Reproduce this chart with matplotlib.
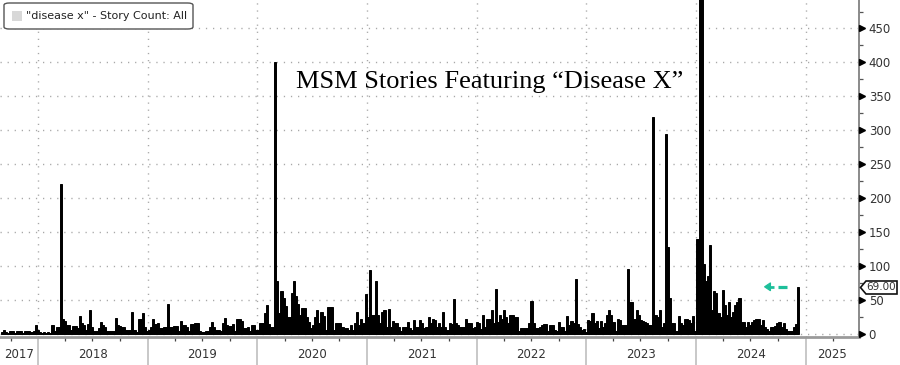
import matplotlib
matplotlib.use("Agg")
import matplotlib.pyplot as plt
import matplotlib.transforms as mtransforms
from matplotlib.patches import FancyBboxPatch, Polygon, Rectangle
import matplotlib.dates as mdates
import pandas as pd
import datetime as dt

# ---------------- data (weekly story counts) ----------------
start_date = "2017-09-03"
v2017 = [2, 5, 2, 1, 4, 3, 1, 4, 4, 4, 1, 3, 3, 4, 2, 3, 12, 5]
v2018 = [2, 1, 2, 1, 2, 1, 13, 4, 10, 10, 221, 21, 19, 12, 12, 5, 11, 11, 8, 26,
         15, 12, 5, 14, 34, 10, 3, 4, 8, 17, 12, 10, 4, 3, 3, 4, 23, 12, 11, 10,
         10, 5, 5, 5, 32, 5, 2, 22, 22, 30, 10, 3]
v2019 = [5, 10, 22, 14, 15, 8, 8, 10, 10, 44, 10, 10, 11, 11, 3, 19, 12, 12, 10, 3,
         14, 14, 16, 16, 3, 2, 2, 3, 3, 10, 17, 10, 5, 5, 3, 15, 23, 12, 11, 11,
         14, 3, 21, 21, 19, 8, 8, 10, 3, 12, 12, 5]
v2020 = [5, 16, 16, 30, 42, 14, 10, 10, 401, 77, 30, 63, 52, 40, 25, 25, 60, 78, 55, 44,
         28, 37, 37, 25, 17, 8, 12, 25, 34, 16, 31, 26, 5, 39, 39, 39, 5, 15, 16, 16,
         10, 8, 8, 5, 12, 5, 15, 32, 12, 21, 15, 59]
v2021 = [25, 93, 28, 28, 77, 28, 15, 32, 34, 10, 36, 10, 19, 15, 16, 10, 3, 10, 10, 17,
         8, 5, 20, 10, 10, 20, 15, 8, 10, 25, 15, 22, 20, 10, 16, 10, 31, 10, 5, 15,
         14, 51, 15, 12, 10, 10, 10, 22, 15, 15, 8, 10]
v2022 = [17, 15, 6, 28, 10, 21, 21, 34, 15, 66, 17, 28, 22, 35, 25, 15, 27, 27, 25, 25,
         3, 8, 8, 8, 8, 15, 48, 15, 8, 8, 10, 12, 14, 14, 3, 12, 12, 5, 3, 17,
         10, 10, 3, 26, 12, 19, 15, 81, 14, 10, 5, 6]
v2023 = [2, 20, 19, 30, 15, 19, 8, 19, 10, 15, 27, 35, 27, 17, 3, 21, 20, 12, 12, 12,
         95, 47, 47, 22, 35, 27, 20, 19, 17, 15, 12, 12, 320, 27, 25, 34, 10, 15, 295, 127,
         52, 15, 15, 3, 26, 15, 12, 22, 21, 20, 15, 26, 3]
v2024 = [140, 650, 510, 102, 77, 85, 130, 35, 62, 60, 30, 25, 64, 42, 27, 47, 25, 32, 42, 47,
         52, 17, 17, 10, 17, 12, 17, 20, 22, 22, 12, 20, 10, 7, 4, 9, 9, 11, 15, 17,
         10, 16, 7, 3, 3, 3, 9, 14, 69]

values = v2017 + v2018 + v2019 + v2020 + v2021 + v2022 + v2023 + v2024
dates = pd.date_range(start_date, periods=len(values), freq="7D")

y_ticks = [0, 50, 100, 150, 200, 250, 300, 350, 400, 450]
years = [2017, 2018, 2019, 2020, 2021, 2022, 2023, 2024, 2025]
last_value_label = "69.00"
legend_label = '"disease x" - Story Count: All'
title = "MSM Stories Featuring \u201cDisease X\u201d"

# ---------------- figure ----------------
W, H = 900, 365
fig = plt.figure(figsize=(W / 100, H / 100), dpi=100)
ax_bottom_px = 337.3
ax = fig.add_axes([0, (H - ax_bottom_px) / H, 859 / W, ax_bottom_px / H])

ax.bar(dates, values, width=7, color="black", edgecolor="black", linewidth=0.7, zorder=3)

xmin = dt.datetime(2017, 8, 27)
xmax = dt.datetime(2025, 6, 28)
ax.set_xlim(xmin, xmax)
ax.set_ylim(-5.6, 492)

# grid
dot = (0, (0.9, 4.2))
for v in y_ticks:
    ax.axhline(v, color="#a8a8a8", lw=1.0, ls=dot, zorder=1)
for y in years[1:]:
    ax.axvline(dt.datetime(y, 1, 1), color="#a8a8a8", lw=1.0, ls=dot, zorder=1)

# spines
for s in ["left", "top"]:
    ax.spines[s].set_visible(False)
ax.spines["right"].set_color("#8a8a8a")
ax.spines["right"].set_linewidth(1.4)
ax.spines["bottom"].set_color("#9a9a9a")
ax.spines["bottom"].set_linewidth(2.0)

# x ticks
ax.set_xticks([dt.datetime(y, 1, 1) for y in years[1:]])
ax.set_xticklabels([])
ax.tick_params(axis="x", which="major", length=20, width=1.3, color="#c4c4c4", direction="out")
ax.xaxis.set_minor_locator(mdates.MonthLocator(bymonth=[4, 7, 10]))
ax.tick_params(axis="x", which="minor", length=3, width=0.9, color="#444444", direction="out")

year_centers = []
for y in years:
    a = max(dt.datetime(y, 1, 1), xmin)
    b = min(dt.datetime(y + 1, 1, 1), xmax)
    year_centers.append(a + (b - a) / 2)
trans_x = mtransforms.blended_transform_factory(ax.transData, ax.transAxes)
for y, c in zip(years, year_centers):
    ax.text(c, -(355 - ax_bottom_px) / ax_bottom_px, str(y), transform=trans_x,
            ha="center", va="center", fontsize=8.5, color="#333333")

# y axis on the right
ax.yaxis.tick_right()
ax.set_yticks(y_ticks)
ax.set_yticklabels([str(v) for v in y_ticks])
ax.tick_params(axis="y", which="major", length=0, pad=7, labelsize=8.5, labelcolor="#333333")
ax.set_yticks([v + 25 for v in y_ticks], minor=True)
ax.tick_params(axis="y", which="minor", length=3, width=0.9, color="#555555", direction="out")
trans_y = mtransforms.blended_transform_factory(ax.transAxes, ax.transData)
ax.plot([1 + 3.2 / 859] * len(y_ticks), y_ticks, ls="none", marker=">", ms=4,
        color="black", transform=trans_y, clip_on=False, zorder=5)

# ---------------- annotations (pixel coordinates) ----------------
def px(x, y):
    return (x / W, 1 - y / H)

# title
fig.text(*px(490, 82), title, ha="center", va="center",
         family="Liberation Serif", fontsize=19, color="black")

# legend box
lx0, ly0, lx1, ly1 = 4, 3, 193, 29
fig.patches.append(FancyBboxPatch(px(lx0, ly1), (lx1 - lx0) / W, (ly1 - ly0) / H,
                                  boxstyle="round,pad=0,rounding_size=0.006",
                                  transform=fig.transFigure, facecolor="white",
                                  edgecolor="#555555", linewidth=1.0, zorder=10))
fig.patches.append(Rectangle(px(12, 20.5), 10 / W, 10 / H, transform=fig.transFigure,
                             facecolor="#d8d8d8", edgecolor="none", zorder=11))
fig.text(*px(26, 16), legend_label, ha="left", va="center", fontsize=8,
         color="#222222", zorder=12)

# last value label with left-pointing box
ylab = 287.5
poly = [px(860.5, ylab), px(866, ylab - 6.5), px(897, ylab - 6.5), px(897, ylab + 6.5), px(866, ylab + 6.5)]
fig.patches.append(Polygon(poly, closed=True, transform=fig.transFigure,
                           facecolor="white", edgecolor="#111111", linewidth=1.2, zorder=10))
fig.text(*px(881.5, ylab), last_value_label, ha="center", va="center", fontsize=7.5,
         color="#333333", zorder=11)

# teal arrow: small head with stub, gap, then a dash
teal = "#1dbf9a"
ya = 286.8
fig.patches.append(Polygon([px(764.5, ya), px(770.5, ya - 4), px(770.5, ya + 4)], closed=True,
                           transform=fig.transFigure, facecolor=teal, edgecolor=teal,
                           linewidth=0.8))
fig.add_artist(plt.Line2D([769 / W, 773.5 / W], [1 - ya / H] * 2, color=teal, lw=2.0,
                          solid_capstyle="butt", transform=fig.transFigure))
fig.add_artist(plt.Line2D([777.5 / W, 787 / W], [1 - ya / H] * 2, color=teal, lw=2.3,
                          solid_capstyle="butt", transform=fig.transFigure))

fig.savefig("out.png", dpi=100)
